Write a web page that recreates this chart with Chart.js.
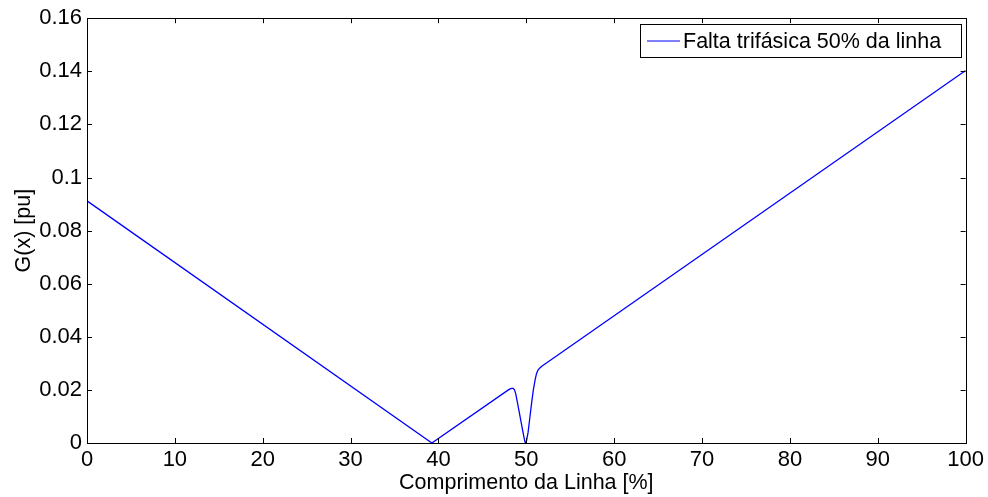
<!DOCTYPE html>
<html>
<head>
<meta charset="utf-8">
<script src="https://cdn.jsdelivr.net/npm/chart.js@4.4.1/dist/chart.umd.min.js"></script>
<style>
  html, body { margin: 0; padding: 0; background: #fff; }
  #wrap { width: 988px; height: 497px; }
</style>
</head>
<body>
<div id="wrap"><canvas id="gx"></canvas></div>
<script>
// G(x) along the line, fault at 50%
const seriesLabel = 'Falta trifásica 50% da linha';
const xPct = [0, 39.25, 48.0, 48.3, 48.5, 48.65, 48.8, 49.0, 49.2, 49.4, 49.6, 49.8, 49.9, 50.0,
              50.2, 50.4, 50.6, 50.8, 51.0, 51.15, 51.3, 51.5, 51.8, 100];
const gVals = [0.0912, 0, 0.0201, 0.0206, 0.0206, 0.0200, 0.0185, 0.0150, 0.0115, 0.0080, 0.0045, 0.0010, 0.0, 0.0005,
               0.0040, 0.0095, 0.0150, 0.0200, 0.0238, 0.0260, 0.0273, 0.0282, 0.0290, 0.1403];
const yTicks = [0, 0.02, 0.04, 0.06, 0.08, 0.1, 0.12, 0.14, 0.16];
const yTickLabels = ['0', '0.02', '0.04', '0.06', '0.08', '0.1', '0.12', '0.14', '0.16'];
const xTicks = [0, 10, 20, 30, 40, 50, 60, 70, 80, 90, 100];

const FONT = 'Arial, "Liberation Sans", sans-serif';

// matlab-like box with inward ticks + legend box
const matlabFrame = {
    id: 'matlabFrame',
    afterDraw(chart) {
        const { ctx, chartArea: a, scales } = chart;
        const tl = 5;
        ctx.save();
        ctx.strokeStyle = '#000';
        ctx.lineWidth = 1;
        ctx.beginPath();
        xTicks.forEach(v => {
            const px = Math.round(scales.x.getPixelForValue(v)) + 0.5;
            ctx.moveTo(px, a.bottom); ctx.lineTo(px, a.bottom - tl);
            ctx.moveTo(px, a.top); ctx.lineTo(px, a.top + tl);
        });
        yTicks.forEach(v => {
            const py = Math.round(scales.y.getPixelForValue(v)) + 0.5;
            ctx.moveTo(a.left, py); ctx.lineTo(a.left + tl, py);
            ctx.moveTo(a.right, py); ctx.lineTo(a.right - tl, py);
        });
        ctx.stroke();
        ctx.strokeRect(Math.round(a.left) + 0.5, Math.round(a.top) + 0.5,
            Math.round(a.right - a.left), Math.round(a.bottom - a.top));

        // legend
        const lx = 640.5, ly = 24.5, lw = 321, lh = 33;
        ctx.fillStyle = '#fff';
        ctx.fillRect(lx, ly, lw, lh);
        ctx.strokeRect(lx, ly, lw, lh);
        ctx.strokeStyle = '#0000ff';
        ctx.beginPath();
        ctx.moveTo(647, ly + lh / 2); ctx.lineTo(680, ly + lh / 2);
        ctx.stroke();
        ctx.fillStyle = '#000';
        ctx.font = '21.5px ' + FONT;
        ctx.textBaseline = 'middle';
        ctx.fillText(chart.data.datasets[0].label, 683, ly + lh / 2 + 1);
        ctx.restore();
    }
};

new Chart(document.getElementById('gx'), {
    type: 'line',
    data: {
        datasets: [{
            label: seriesLabel,
            data: xPct.map((x, i) => ({ x: x, y: gVals[i] })),
            borderColor: '#0000ff',
            borderWidth: 1.3,
            pointRadius: 0,
            tension: 0,
            fill: false
        }]
    },
    options: {
        responsive: true,
        maintainAspectRatio: false,
        animation: false,
        layout: { padding: { left: 0, top: 17, right: 22, bottom: 0 } },
        plugins: {
            legend: { display: false },
            tooltip: { enabled: false }
        },
        scales: {
            x: {
                type: 'linear',
                min: 0,
                max: 100,
                afterFit(s) { s.height = 54; },
                afterBuildTicks(s) { s.ticks = xTicks.map(v => ({ value: v })); },
                grid: { display: false, drawTicks: false },
                border: { display: false },
                ticks: {
                    color: '#000',
                    padding: 4,
                    maxRotation: 0,
                    font: { family: FONT, size: 22 }
                },
                title: {
                    display: true,
                    text: 'Comprimento da Linha [%]',
                    color: '#000',
                    padding: { top: 0, bottom: 1 },
                    font: { family: FONT, size: 21.5 }
                }
            },
            y: {
                min: 0,
                max: 0.16,
                afterFit(s) { s.width = 87; },
                afterBuildTicks(s) { s.ticks = yTicks.map(v => ({ value: v })); },
                grid: { display: false, drawTicks: false },
                border: { display: false },
                ticks: {
                    color: '#000',
                    padding: 5,
                    font: { family: FONT, size: 22 },
                    callback: (v) => {
                        const i = yTicks.findIndex(t => Math.abs(t - v) < 1e-9);
                        return i >= 0 ? yTickLabels[i] : '';
                    }
                },
                title: {
                    display: true,
                    text: 'G(x) [pu]',
                    color: '#000',
                    padding: { top: 11, bottom: 0 },
                    font: { family: FONT, size: 21.5 }
                }
            }
        }
    },
    plugins: [matlabFrame]
});
</script>
</body>
</html>
